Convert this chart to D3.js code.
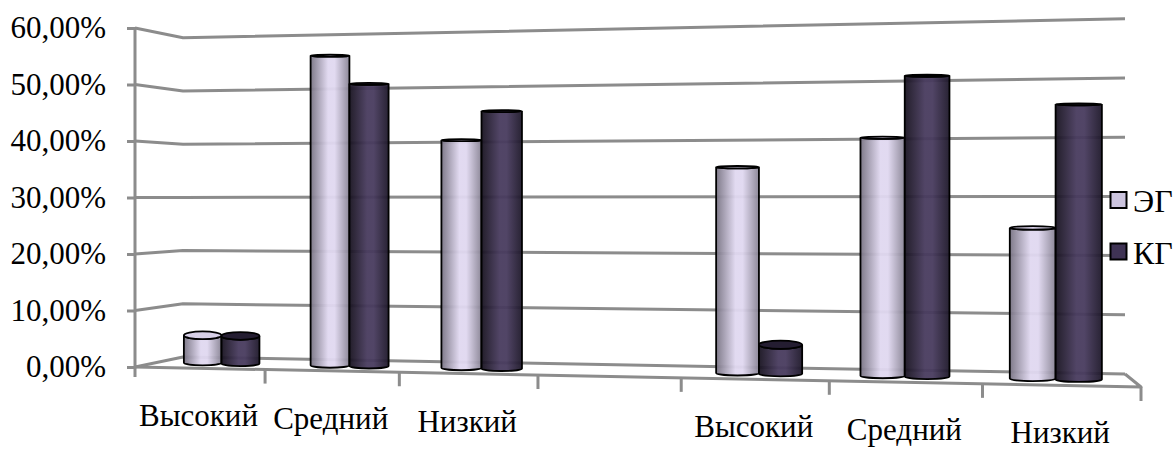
<!DOCTYPE html>
<html>
<head>
<meta charset="utf-8">
<script src="https://cdn.jsdelivr.net/npm/d3@7"></script>
<style>
  html, body { margin: 0; background: #fff; }
  svg { display: block; }
  text { font-family: "Liberation Serif", serif; fill: #000; }
</style>
</head>
<body>
<svg id="chart" width="1175" height="449"></svg>
<script>
var categories = ["Высокий", "Средний", "Низкий", "", "Высокий", "Средний", "Низкий"];
var seriesNames = ["ЭГ", "КГ"];
var egValues = [5, 55.5, 40.3, null, 35.5, 40.5, 25.3];
var kgValues = [5, 50.4, 45.4, null, 5, 51, 46];
var yTicks = [0, 10, 20, 30, 40, 50, 60];

var svg = d3.select("#chart");
var defs = svg.append("defs");
var gridColor = "#8c8c8c";

// fake 3d box: t = slot along the floor, v = percent, d = depth (0 front, 1 back wall)
var slotCount = categories.length, persp = 0.109;
var along = t => { let u = t / slotCount; return u * (1 - persp) / (1 - persp * u); };
var xLeft = d3.scaleLinear().domain([0, 1]).range([135, 183]),
    xRight = d3.scaleLinear().domain([0, 1]).range([1141, 1125]),
    baseLeft = d3.scaleLinear().domain([0, 1]).range([367, 357]),
    baseRight = d3.scaleLinear().domain([0, 1]).range([387, 374]),
    unitLeft = d3.scaleLinear().domain([0, 1]).range([5.65, 5.32]),
    unitRight = d3.scaleLinear().domain([0, 1]).range([6.1, 5.92]);

function project(t, v, d) {
  let g = along(t);
  let base = baseLeft(d) + (baseRight(d) - baseLeft(d)) * g,
      unit = unitLeft(d) + (unitRight(d) - unitLeft(d)) * g;
  return [xLeft(d) + (xRight(d) - xLeft(d)) * g, base - unit * v];
}

var slots = d3.scaleBand().domain(d3.range(slotCount)).range([0, slotCount]);
var inner = d3.scaleBand().domain(seriesNames).range([0.2, 0.8]);

// value axis
var yAxisScale = d3.scaleLinear().domain([0, 60]).range([project(0, 0, 0)[1], project(0, 60, 0)[1]]);
var fmt = v => v.toFixed(2).replace(".", ",") + "%";
var axisG = svg.append("g").attr("transform", "translate(136,0)")
  .call(d3.axisLeft(yAxisScale).tickValues(yTicks).tickFormat(fmt).tickSize(9).tickPadding(21));
axisG.select(".domain").remove();
axisG.selectAll("line").attr("stroke", gridColor).attr("stroke-width", 3);
axisG.selectAll("text").style("font-size", "31px").style("font-family", "Liberation Serif").attr("fill", "#000");

var line = d3.line();
var grid = svg.append("g").attr("fill", "none").attr("stroke", gridColor)
  .attr("stroke-width", 3).attr("stroke-linejoin", "round");

// side wall + back wall lines
grid.selectAll("path.wall").data(yTicks).enter().append("path").attr("class", "wall")
  .attr("d", v => line([project(0, v, 0), project(0, v, 1), project(slotCount, v, 1)]));

// vertical axis, floor edges, tick marks
grid.append("path").attr("d", line([project(0, 60, 0), [project(0, 0, 0)[0], project(0, 0, 0)[1] + 10]]));
grid.append("path").attr("d", line([project(0, 0, 0), project(slotCount, 0, 0), project(slotCount, 0, 1)]));
grid.selectAll("path.tick").data(d3.range(1, slotCount + 1)).enter().append("path").attr("class", "tick")
  .attr("d", t => { let p = project(t, 0, 0); return line([p, [p[0], p[1] + 14]]); });

// cylinders
function addGradient(id, edgeL, mid, edgeR) {
  let g = defs.append("linearGradient").attr("id", id);
  g.append("stop").attr("offset", "0").attr("stop-color", edgeL);
  g.append("stop").attr("offset", "0.45").attr("stop-color", mid);
  g.append("stop").attr("offset", "0.62").attr("stop-color", mid);
  g.append("stop").attr("offset", "1").attr("stop-color", edgeR);
}
addGradient("gradEG", "#787383", "#e0d8f0", "#888394");
addGradient("gradKG", "#17121f", "#483b5e", "#1d1729");
var barFill = { "ЭГ": "url(#gradEG)", "КГ": "url(#gradKG)" };
var capFill = { "ЭГ": "#d8d0e8", "КГ": "#241d31" };
var swatchFill = { "ЭГ": "#cbc3dd", "КГ": "#3f3354" };

var ry = y => 1 + 3 * Math.pow(Math.max(0, y - 50) / 290, 3);
var baseRy = 2.5;
var bars = [];
seriesNames.forEach((name, s) => {
  (s ? kgValues : egValues).forEach((v, i) => {
    if (v != null) bars.push({ name: name, slot: i, value: v });
  });
});
bars.sort((a, b) => a.slot - b.slot);

var barG = svg.selectAll("g.bar").data(bars).enter().append("g").attr("class", "bar");
barG.each(function(d) {
  let t0 = slots(d.slot) + inner(d.name), t1 = t0 + inner.bandwidth();
  let x0 = project(t0, 0, 0.5)[0], x1 = project(t1, 0, 0.5)[0];
  let mid = (t0 + t1) / 2;
  let yBase = project(mid, 0, 0.5)[1], yTop = project(mid, d.value, 0.5)[1];
  let rx = (x1 - x0) / 2, rTop = ry(yTop);
  let g = d3.select(this);
  g.append("path")
    .attr("d", `M${x0},${yTop}L${x0},${yBase}A${rx},${baseRy} 0 0 0 ${x1},${yBase}L${x1},${yTop}A${rx},${rTop} 0 0 1 ${x0},${yTop}Z`)
    .attr("fill", barFill[d.name]).attr("fill-opacity", 0.95)
    .attr("stroke", "#000").attr("stroke-width", 1.8);
  g.append("ellipse")
    .attr("cx", (x0 + x1) / 2).attr("cy", yTop).attr("rx", rx).attr("ry", rTop)
    .attr("fill", capFill[d.name]).attr("stroke", "#000").attr("stroke-width", 1.8);
});

// category labels under the front edge
svg.selectAll("text.cat").data(categories).enter().append("text").attr("class", "cat")
  .attr("text-anchor", "middle").style("font-size", "31px")
  .attr("x", (d, i) => (project(i, 0, 0)[0] + project(i + 1, 0, 0)[0]) / 2 - 1.5)
  .attr("y", (d, i) => project(i + 0.5, 0, 0)[1] + 58)
  .text(d => d);

// legend
var legendY = d3.scalePoint().domain(seriesNames).range([200, 251.5]);
var legend = svg.selectAll("g.legend").data(seriesNames).enter().append("g").attr("class", "legend")
  .attr("transform", d => `translate(1110,${legendY(d)})`);
legend.append("rect").attr("x", 0.5).attr("y", -8).attr("width", 16).attr("height", 16)
  .attr("fill", d => swatchFill[d]).attr("stroke", "#000").attr("stroke-width", 2);
legend.append("text").attr("x", 23).attr("y", 12).style("font-size", "32px").text(d => d);
</script>
</body>
</html>
